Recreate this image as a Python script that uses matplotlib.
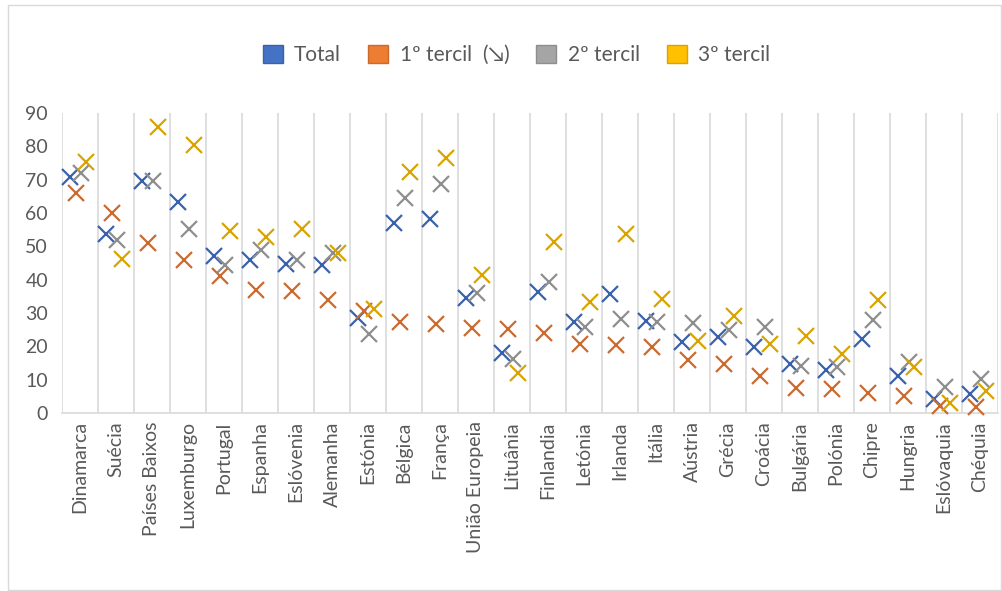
import numpy as np
import matplotlib
matplotlib.use("Agg")
import matplotlib.pyplot as plt
from matplotlib.patches import Patch, Rectangle

paises = ["Dinamarca", "Suécia", "Países Baixos", "Luxemburgo", "Portugal",
          "Espanha", "Eslóvenia", "Alemanha", "Estónia", "Bélgica", "França",
          "União Europeia", "Lituânia", "Finlandia", "Letónia", "Irlanda",
          "Itália", "Aústria", "Grécia", "Croácia", "Bulgária", "Polónia",
          "Chipre", "Hungria", "Eslóvaquia", "Chéquia"]

total = [70.8, 53.6, 69.5, 63.3, 47.0, 45.8, 44.8, 44.3, 28.5, 56.9, 58.1,
         34.5, 18.0, 36.2, 27.2, 35.7, 27.7, 21.2, 22.7, 19.7, 14.7, 12.9,
         22.2, 11.2, 4.2, 5.7]
tercil1 = [66.0, 60.0, 51.0, 45.8, 41.0, 37.0, 36.5, 34.0, 30.5, 27.3, 26.7,
           25.5, 25.2, 24.0, 20.7, 20.4, 19.9, 15.9, 14.8, 11.2, 7.5, 7.2,
           5.9, 5.2, 2.2, 1.9]
tercil2 = [72.0, 51.8, 69.5, 55.3, 44.3, 48.8, 45.8, 47.9, 23.7, 64.6, 68.8,
           35.9, 16.2, 39.2, 25.7, 28.2, 27.2, 27.0, 24.9, 25.7, 14.0, 13.7,
           28.0, 15.4, 7.7, 10.2]
tercil3 = [75.3, 46.3, 85.8, 80.5, 54.7, 52.9, 55.3, 48.0, 31.2, 72.3, 76.6,
           41.3, 11.9, 51.3, 33.3, 53.8, 34.3, 21.5, 29.0, 20.7, 23.2, 17.7,
           34.0, 13.7, 2.9, 6.7]

series = [
    ("Total", total, "#4472C4", "#3A62AC"),
    ("1º tercil  (↘)", tercil1, "#ED7D31", "#CC6A2E"),
    ("2º tercil", tercil2, "#A5A5A5", "#8E8E8E"),
    ("3º tercil", tercil3, "#FFC000", "#D9A400"),
]
offsets = [-0.28, -0.10, 0.04, 0.16]

plt.rcParams['font.family'] = ['Lato', 'DejaVu Sans']

fig = plt.figure(figsize=(10.03, 5.91), dpi=100)
ax = fig.add_axes([62 / 1003, 1 - 413 / 591, 936 / 1003, 300 / 591])

x = np.arange(len(paises))
for (nome, vals, cor, cor_m), off in zip(series, offsets):
    ax.plot(x + off, vals, linestyle="none", marker="x", markersize=12,
            markeredgewidth=1.6, color=cor_m, clip_on=False, zorder=3)

ax.set_xlim(-0.5, len(paises) - 0.5)
ax.set_ylim(0, 90)
ax.set_yticks(range(0, 91, 10))
ax.set_xticks(x)
ax.set_xticklabels(paises, rotation=90, fontsize=14, color="#595959")
ax.tick_params(axis="y", labelsize=14, colors="#595959", length=0, pad=10)
ax.tick_params(axis="x", length=0, pad=6)

for b in np.arange(-0.5, len(paises), 1.0):
    ax.axvline(b, color="#D9D9D9", linewidth=1.2, zorder=1)

for s in ["top", "right", "left"]:
    ax.spines[s].set_visible(False)
ax.spines["bottom"].set_color("#D9D9D9")
ax.spines["bottom"].set_linewidth(1.2)

handles = [Patch(facecolor=c, edgecolor=cm, linewidth=1.0, label=n)
           for n, v, c, cm in series]
fig.legend(handles=handles, loc="center", bbox_to_anchor=(0.515, 1 - 55 / 591),
           ncol=4, frameon=False, fontsize=15, handlelength=0.95,
           handleheight=0.95, handletextpad=0.55, columnspacing=1.3,
           labelcolor="#595959")

fig.patches.append(Rectangle((8 / 1003, 0.002), 0.99, 0.99, transform=fig.transFigure,
                             fill=False, edgecolor="#D9D9D9", linewidth=1))

fig.savefig("out.png", dpi=100)
